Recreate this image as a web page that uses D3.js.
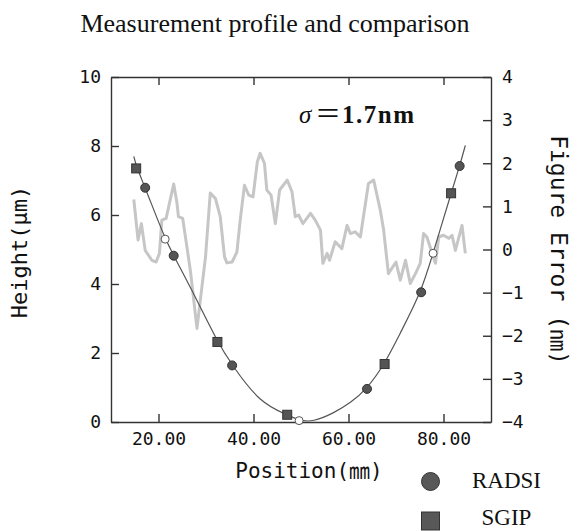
<!DOCTYPE html>
<html>
<head>
<meta charset="utf-8">
<script src="https://cdn.jsdelivr.net/npm/d3@7"></script>
<style>
body { margin: 0; background: #fff; }
svg { display: block; background: #fff; }
.axis path, .axis line { stroke: #333; stroke-width: 1.4; }
.axis text { font-family: "DejaVu Sans Mono", monospace; font-size: 18px; fill: #111; }
.title { font-family: "Liberation Serif", serif; font-size: 26px; fill: #111; }
.label { font-family: "DejaVu Sans Mono", monospace; fill: #111; }
.legend { font-family: "Liberation Serif", serif; font-size: 23px; fill: #111; }
</style>
</head>
<body>
<svg id="chart" width="581" height="531"></svg>
<script>

// tick values of the three axes
let xTicks = [20, 40, 60, 80];
let heightTicks = [0, 2, 4, 6, 8, 10];
let errorTicks = [-4, -3, -2, -1, 0, 1, 2, 3, 4];

// RADSI measured points (position mm, height um)
let radsiPos = [17.2, 23.2, 35.5, 63.9, 75.3, 83.4];
let radsiHeight = [6.79, 4.82, 1.64, 0.96, 3.76, 7.42];

// SGIP measured points
let sgipPos = [15.3, 32.4, 47.1, 67.6, 81.6];
let sgipHeight = [7.35, 2.32, 0.21, 1.68, 6.63];

// open reference points sitting on the profile
let refPos = [21.4, 49.6, 77.8];
let refHeight = [5.30, 0.04, 4.89];

// the thin profile curve, read along its length
let fitPos = [14.8, 15.3, 17.2, 21.4, 23.2, 26.7, 32.4, 35.5, 41.4, 47.1, 49.6, 52.5,
    56.9, 60.4, 63.9, 67.6, 70.9, 75.3, 77.8, 81.6, 83.4, 84.6];
let fitHeight = [7.70, 7.42, 6.79, 5.30, 4.82, 3.92, 2.32, 1.64, 0.55, 0.21, 0.04, 0.0,
    0.26, 0.55, 0.96, 1.68, 2.58, 3.76, 4.89, 6.63, 7.42, 8.02];

// figure error (nm) on the right axis
let errorPos = [14.8, 15.7, 16.4, 17.2, 18.6, 19.5, 20.2, 20.7, 21.6, 22.3,
    23.2, 23.9, 24.2, 25.1, 26.7, 28.1, 28.8, 29.9, 30.9, 32.0,
    33.0, 33.9, 34.4, 35.5, 36.5, 37.2, 38.1, 39.0, 39.9, 40.8,
    41.4, 42.3, 42.8, 43.7, 44.6, 45.5, 47.1, 48.1, 48.8, 49.5,
    50.4, 52.0, 53.0, 54.1, 54.6, 55.5, 56.0, 57.2, 58.6, 59.7,
    60.4, 61.4, 62.5, 64.2, 65.3, 66.7, 67.4, 68.4, 70.0, 70.9,
    72.0, 73.0, 74.1, 75.1, 75.8, 76.5, 78.3, 79.0, 80.0, 81.1,
    81.8, 82.5, 83.9, 84.6];
let errorVal = [1.16, 0.22, 0.60, -0.02, -0.25, -0.29, -0.09, 0.68, 0.72, 1.07,
    1.52, 1.07, 0.76, 0.72, -0.48, -1.83, -1.18, -0.17, 1.31, 1.18,
    0.76, -0.17, -0.31, -0.29, -0.06, 0.68, 1.49, 1.26, 1.22, 2.03,
    2.23, 2.00, 1.38, 1.26, 0.60, 1.38, 1.61, 1.34, 0.76, 0.80,
    0.60, 0.84, 0.68, 0.45, -0.32, -0.09, -0.25, 0.18, 0.02, 0.56,
    0.37, 0.41, 0.29, 1.53, 1.61, 0.91, 0.45, -0.56, -0.29, -0.71,
    -0.25, -0.79, -0.56, -0.32, 0.37, 0.29, -0.32, 0.29, 0.33, 0.26,
    0.33, -0.02, 0.56, -0.09];

let svg = d3.select('#chart');

// plot box
let box = { left: 111, right: 491, top: 77, bottom: 422 };

let x = d3.scaleLinear().domain([10, 90]).range([box.left, box.right]);
let yH = d3.scaleLinear().domain([0, 10]).range([box.bottom, box.top]);
let yE = d3.scaleLinear().domain([-4, 4]).range([box.bottom, box.top]);

// title
svg.append('text')
    .attr('class', 'title')
    .attr('x', 275)
    .attr('y', 32)
    .attr('text-anchor', 'middle')
    .text('Measurement profile and comparison');

// axes, all ticks pointing inward
svg.append('g')
    .attr('class', 'axis')
    .attr('transform', 'translate(0,' + box.bottom + ')')
    .call( d3.axisBottom(x).tickValues(xTicks).tickFormat(d3.format('.2f'))
        .tickSize(-8).tickSizeOuter(0).tickPadding(10) );
svg.append('g')
    .attr('class', 'axis')
    .attr('transform', 'translate(0,' + box.top + ')')
    .call( d3.axisTop(x).tickValues(xTicks).tickFormat('')
        .tickSize(-8).tickSizeOuter(0) );
svg.append('g')
    .attr('class', 'axis')
    .attr('transform', 'translate(' + box.left + ',0)')
    .call( d3.axisLeft(yH).tickValues(heightTicks).tickFormat(d3.format('d'))
        .tickSize(-8).tickSizeOuter(0).tickPadding(10) );
svg.append('g')
    .attr('class', 'axis')
    .attr('transform', 'translate(' + box.right + ',0)')
    .call( d3.axisRight(yE).tickValues(errorTicks).tickFormat(d3.format('d'))
        .tickSize(-8).tickSizeOuter(0).tickPadding(11) );

// axis titles
let xt = svg.append('text')
    .attr('class', 'label')
    .attr('x', 309)
    .attr('y', 478)
    .attr('text-anchor', 'middle')
    .style('font-size', '21px');
xt.append('tspan').text('Position(');
xt.append('tspan').style('font-family', '"Noto Sans CJK JP"').text('㎜');
xt.append('tspan').text(')');

svg.append('text')
    .attr('class', 'label')
    .attr('transform', 'translate(27,252) rotate(-90)')
    .attr('text-anchor', 'middle')
    .style('font-size', '22px')
    .text('Height(μm)');

let rt = svg.append('text')
    .attr('class', 'label')
    .attr('transform', 'translate(551,250) rotate(90)')
    .attr('text-anchor', 'middle')
    .style('font-size', '23px');
rt.append('tspan').text('Figure Error (');
rt.append('tspan').style('font-family', '"Noto Sans CJK JP"').style('font-size', '22px').text('㎚');
rt.append('tspan').text(')');

// figure error trace
let errLine = d3.line()
    .x( function(d) {return x(d[0]);} )
    .y( function(d) {return yE(d[1]);} );
svg.append('path')
    .datum( d3.zip(errorPos, errorVal) )
    .attr('fill', 'none')
    .attr('stroke', '#c6c6c6')
    .attr('stroke-width', 3)
    .attr('stroke-linejoin', 'round')
    .attr('d', errLine);

// profile curve, smoothed through the read points
let fitLine = d3.line()
    .curve(d3.curveBasis)
    .x( function(d) {return x(d[0]);} )
    .y( function(d) {return yH(d[1]);} );
svg.append('path')
    .datum( d3.zip(fitPos, fitHeight) )
    .attr('fill', 'none')
    .attr('stroke', '#555')
    .attr('stroke-width', 1.2)
    .attr('d', fitLine);

// markers
svg.append('g').selectAll('circle')
    .data( d3.zip(refPos, refHeight) )
    .enter().append('circle')
    .attr('cx', function(d) {return x(d[0]);})
    .attr('cy', function(d) {return yH(d[1]);})
    .attr('r', 4)
    .attr('fill', '#fff')
    .attr('stroke', '#555')
    .attr('stroke-width', 1);

svg.append('g').selectAll('rect')
    .data( d3.zip(sgipPos, sgipHeight) )
    .enter().append('rect')
    .attr('x', function(d) {return x(d[0]) - 4.5;})
    .attr('y', function(d) {return yH(d[1]) - 4.5;})
    .attr('width', 9)
    .attr('height', 9)
    .attr('fill', '#555')
    .attr('stroke', '#333')
    .attr('stroke-width', 1);

svg.append('g').selectAll('circle')
    .data( d3.zip(radsiPos, radsiHeight) )
    .enter().append('circle')
    .attr('cx', function(d) {return x(d[0]);})
    .attr('cy', function(d) {return yH(d[1]);})
    .attr('r', 4.5)
    .attr('fill', '#555')
    .attr('stroke', '#333')
    .attr('stroke-width', 1);

// sigma annotation
let sig = svg.append('text')
    .attr('y', 123)
    .style('font-family', '"Liberation Serif", serif')
    .style('font-size', '25px')
    .style('fill', '#111');
sig.append('tspan').attr('x', 299).style('font-style', 'italic').text('σ');
sig.append('tspan').attr('x', 315).style('font-family', '"Noto Sans CJK JP"').style('font-size', '26px').text('＝');
sig.append('tspan').attr('x', 342).style('font-weight', 'bold').style('letter-spacing', '1.5px').text('1.7nm');

// legend
svg.append('circle')
    .attr('cx', 430.5).attr('cy', 481.5).attr('r', 9)
    .attr('fill', '#585858').attr('stroke', '#333');
svg.append('text')
    .attr('class', 'legend')
    .attr('x', 506.5).attr('y', 488)
    .attr('text-anchor', 'middle')
    .text('RADSI');
svg.append('rect')
    .attr('x', 421.5).attr('y', 512).attr('width', 18).attr('height', 18)
    .attr('fill', '#585858').attr('stroke', '#333');
svg.append('text')
    .attr('class', 'legend')
    .attr('x', 506.5).attr('y', 525)
    .attr('text-anchor', 'middle')
    .text('SGIP');

</script>
</body>
</html>
